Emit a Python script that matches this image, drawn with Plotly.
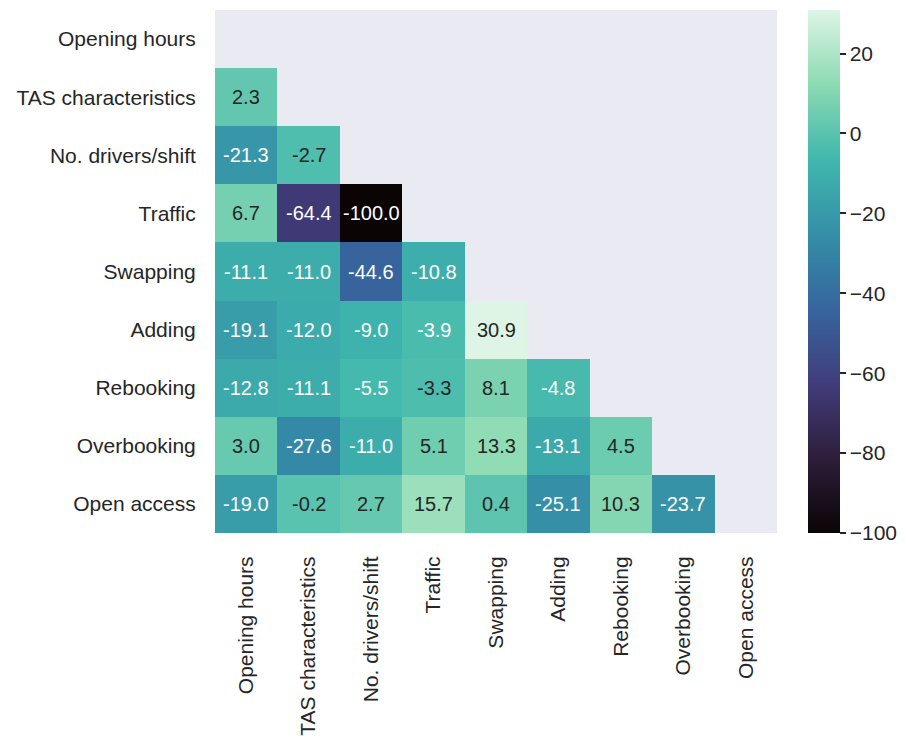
import numpy as np
import plotly.graph_objects as go

labels = ["Opening hours", "TAS characteristics", "No. drivers/shift", "Traffic",
          "Swapping", "Adding", "Rebooking", "Overbooking", "Open access"]

# lower-triangle values, row by row (row i has i values)
row_vals = [
    [],
    [2.3],
    [-21.3, -2.7],
    [6.7, -64.4, -100.0],
    [-11.1, -11.0, -44.6, -10.8],
    [-19.1, -12.0, -9.0, -3.9, 30.9],
    [-12.8, -11.1, -5.5, -3.3, 8.1, -4.8],
    [3.0, -27.6, -11.0, 5.1, 13.3, -13.1, 4.5],
    [-19.0, -0.2, 2.7, 15.7, 0.4, -25.1, 10.3, -23.7],
]

mako = [
    [0.0, "#0b0405"], [1/7, "#2e1e3b"], [2/7, "#413d7b"], [3/7, "#37659e"],
    [4/7, "#348fa7"], [5/7, "#40b7ad"], [6/7, "#8bdab2"], [1.0, "#def5e5"],
]

FONT = "Liberation Sans, Arial, sans-serif"
TXT = "#262626"

n = len(labels)
z = [[None] * n for _ in range(n)]
for i, r in enumerate(row_vals):
    for j, v in enumerate(r):
        z[i][j] = v

zmin, zmax = -100.0, max(v for r in row_vals for v in r)

def hex_to_rgb(h):
    h = h.lstrip("#")
    return [int(h[k:k+2], 16) / 255 for k in (0, 2, 4)]

def color_at(v):
    t = (v - zmin) / (zmax - zmin)
    for (p0, c0), (p1, c1) in zip(mako[:-1], mako[1:]):
        if p0 <= t <= p1:
            f = (t - p0) / (p1 - p0) if p1 > p0 else 0
            a, b = hex_to_rgb(c0), hex_to_rgb(c1)
            return [a[k] + f * (b[k] - a[k]) for k in range(3)]
    return hex_to_rgb(mako[-1][1])

def lum(rgb):
    c = [x / 12.92 if x <= 0.03928 else ((x + 0.055) / 1.055) ** 2.4 for x in rgb]
    return 0.2126 * c[0] + 0.7152 * c[1] + 0.0722 * c[2]

fig = go.Figure(go.Heatmap(
    z=z, x=labels, y=labels, colorscale=mako, zmin=zmin, zmax=zmax,
    hoverongaps=False, xgap=0, ygap=0,
    colorbar=dict(
        thickness=32, len=1.0, lenmode="fraction", y=0.5, yanchor="middle",
        x=1.055, xanchor="left", xpad=0, ypad=0, outlinewidth=0,
        ticks="outside", ticklen=6, tickwidth=1.5, tickcolor=TXT,
        tickvals=[20, 0, -20, -40, -60, -80, -100],
        ticktext=["20", "0", "\u221220", "\u221240", "\u221260", "\u221280", "\u2212100"],
        tickfont=dict(size=21, color=TXT, family=FONT),
    ),
))

annotations = []
for i, r in enumerate(row_vals):
    for j, v in enumerate(r):
        col = TXT if lum(color_at(v)) > 0.408 else "white"
        annotations.append(dict(x=labels[j], y=labels[i], text=f"{v:.1f}", showarrow=False,
                                font=dict(size=20, color=col, family=FONT)))

fig.update_layout(
    width=906, height=736,
    margin=dict(l=207, r=137, t=2, b=211),
    paper_bgcolor="white", plot_bgcolor="#eaeaf2",
    annotations=annotations,
    font=dict(family=FONT, size=21, color=TXT),
    xaxis=dict(tickangle=-90, showgrid=False, zeroline=False, ticks="outside",
               ticklen=14, tickcolor="rgba(0,0,0,0)", showline=False,
               tickfont=dict(size=21, color=TXT, family=FONT)),
    yaxis=dict(autorange="reversed", showgrid=False, zeroline=False, ticks="outside",
               ticklen=14, tickcolor="rgba(0,0,0,0)", showline=False,
               tickfont=dict(size=21, color=TXT, family=FONT)),
)

fig.write_html("out.html")
